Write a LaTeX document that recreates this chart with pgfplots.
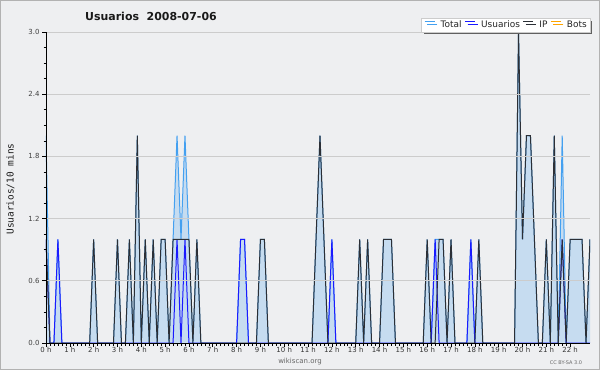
\documentclass[border=0pt]{standalone}
\usepackage{fontspec}
\setmainfont{DejaVu Sans}
\setmonofont{DejaVu Sans Mono}
\usepackage{pgfplots}
\pgfplotsset{compat=1.18}
\usepackage{pgfplotstable}
\usetikzlibrary{shadows}
\definecolor{bg}{HTML}{EEEFF1}
\definecolor{fillc}{HTML}{C6DCF0}
\definecolor{totc}{HTML}{44A0F0}
\definecolor{usrc}{HTML}{1A1AFF}
\definecolor{ipc}{HTML}{2B2F36}
\definecolor{botc}{HTML}{FFA500}
\definecolor{gridc}{HTML}{CCCCCC}

\pgfplotstableread{
i T U P
0 2 1 1
1 0 0 0
2 0 0 0
3 1 1 0
4 0 0 0
5 0 0 0
6 0 0 0
7 0 0 0
8 0 0 0
9 0 0 0
10 0 0 0
11 0 0 0
12 1 0 1
13 0 0 0
14 0 0 0
15 0 0 0
16 0 0 0
17 0 0 0
18 1 0 1
19 0 0 0
20 0 0 0
21 1 0 1
22 0 0 0
23 2 0 2
24 0 0 0
25 1 0 1
26 0 0 0
27 1 0 1
28 0 0 0
29 1 0 1
30 1 0 1
31 0 0 0
32 1 0 1
33 2 1 1
34 1 0 1
35 2 1 1
36 1 0 1
37 0 0 0
38 1 0 1
39 0 0 0
40 0 0 0
41 0 0 0
42 0 0 0
43 0 0 0
44 0 0 0
45 0 0 0
46 0 0 0
47 0 0 0
48 0 0 0
49 1 1 0
50 1 1 0
51 0 0 0
52 0 0 0
53 0 0 0
54 1 0 1
55 1 0 1
56 0 0 0
57 0 0 0
58 0 0 0
59 0 0 0
60 0 0 0
61 0 0 0
62 0 0 0
63 0 0 0
64 0 0 0
65 0 0 0
66 0 0 0
67 0 0 0
68 1 0 1
69 2 0 2
70 1 0 1
71 0 0 0
72 1 1 0
73 0 0 0
74 0 0 0
75 0 0 0
76 0 0 0
77 0 0 0
78 0 0 0
79 1 0 1
80 0 0 0
81 1 0 1
82 0 0 0
83 0 0 0
84 0 0 0
85 1 0 1
86 1 0 1
87 1 0 1
88 0 0 0
89 0 0 0
90 0 0 0
91 0 0 0
92 0 0 0
93 0 0 0
94 0 0 0
95 0 0 0
96 1 0 1
97 0 0 0
98 1 1 0
99 1 0 1
100 1 0 1
101 0 0 0
102 1 0 1
103 0 0 0
104 0 0 0
105 0 0 0
106 0 0 0
107 1 1 0
108 0 0 0
109 1 0 1
110 0 0 0
111 0 0 0
112 0 0 0
113 0 0 0
114 0 0 0
115 0 0 0
116 0 0 0
117 0 0 0
118 0 0 0
119 3 0 3
120 1 0 1
121 2 0 2
122 2 0 2
123 1 0 1
124 0 0 0
125 0 0 0
126 1 0 1
127 0 0 0
128 2 0 2
129 0 0 0
130 2 1 1
131 0 0 0
132 1 0 1
133 1 0 1
134 1 0 1
135 1 0 1
136 0 0 0
137 1 0 1
}\data

\begin{document}
\begin{tikzpicture}
\fill[bg] (0,0) rectangle (600bp,370bp);
\draw[gray!60, line width=1bp] (0.5bp,0.5bp) rectangle (599.5bp,369.5bp);
\begin{axis}[
  at={(46bp,27bp)}, anchor=south west,
  scale only axis, width=544bp, height=311bp,
  xmin=0, xmax=137, ymin=0, ymax=3,
  axis lines=left, axis line style={-, black, line width=0.8bp},
  axis on top,
  tick align=outside,
  major tick length=4bp, minor tick length=2.5bp,
  tick style={black, line width=0.6bp},
  xtick={0,6,...,132},
  xticklabels={0 h,1 h,2 h,3 h,4 h,5 h,6 h,7 h,8 h,9 h,10 h,11 h,12 h,13 h,14 h,15 h,16 h,17 h,18 h,19 h,20 h,21 h,22 h},
  minor x tick num=5,
  ytick={0,0.6,1.2,1.8,2.4,3.0},
  minor y tick num=3,
  ymajorgrids, grid style={gridc, line width=0.8bp},
  /pgf/number format/assume math mode=true,
  yticklabel style={/pgf/number format/.cd, fixed, fixed zerofill, precision=1, /tikz/.cd, font=\fontsize{7}{8}\selectfont, text=black!75, xshift=1bp},
  xticklabel style={font=\fontsize{7}{8}\selectfont, text=black!80, yshift=3bp},
  legend columns=4,
  legend style={at={(1,1)}, anchor=south east, fill=white, draw=gray!40,
    font=\fontsize{9}{10}\selectfont, text=black!85,
    drop shadow={shadow xshift=2.5bp, shadow yshift=-2.5bp, fill=gray!75!black, opacity=1},
    inner xsep=3bp, inner ysep=1.5bp,
    nodes={inner xsep=0bp, inner ysep=1bp},
    /tikz/every odd column/.append style={column sep=5.5bp},
    /tikz/every even column/.append style={column sep=3bp}},
  legend image code/.code={\draw[#1] (0bp,3.2bp) -- (10bp,3.2bp);},
]
\addplot[fill=fillc, draw=none, forget plot] table[x=i,y=T]{\data} \closedcycle;
\addplot[totc, line width=1bp] table[x=i,y=T]{\data};
\addlegendentry{Total}
\addplot[usrc, line width=1bp] table[x=i,y=U]{\data};
\addlegendentry{Usuarios}
\addplot[ipc, line width=1bp] table[x=i,y=P]{\data};
\addlegendentry{IP}
\addlegendimage{botc, line width=1bp}
\addlegendentry{Bots}
\end{axis}
\node[font=\bfseries\fontsize{11}{12}\selectfont, text=black!90] at (151bp,354bp) {Usuarios\ \ 2008-07-06};
\node[rotate=90, font=\ttfamily\fontsize{9.5}{10}\selectfont, text=black!90] at (10.5bp,181bp) {Usuarios/10 mins};
\node[font=\fontsize{7}{8}\selectfont, text=black!60] at (300bp,8bp) {wikiscan.org};
\node[font=\fontsize{5}{6}\selectfont, text=black!60] at (566bp,7bp) {CC BY-SA 3.0};
\pgfresetboundingbox
\useasboundingbox (0,0) rectangle (600bp,370bp);
\end{tikzpicture}
\end{document}
